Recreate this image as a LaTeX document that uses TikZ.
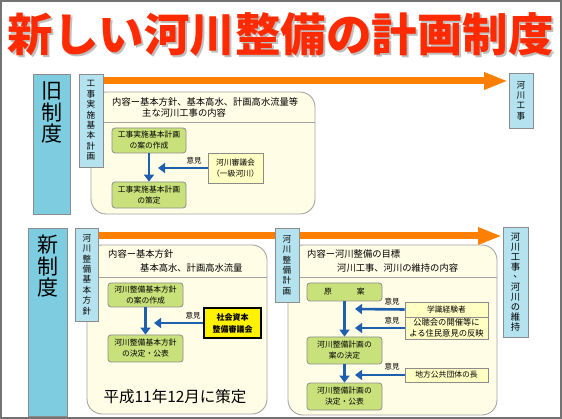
\documentclass[tikz,border=0pt]{standalone}
\usepackage{fontspec}
\setmainfont{Noto Sans CJK JP}
\usetikzlibrary{arrows.meta}
\definecolor{sysblue}{HTML}{7DCCE0}
\definecolor{lightblue}{HTML}{B4E2EE}
\definecolor{cream}{HTML}{FFFDE6}
\definecolor{greenfill}{HTML}{C9E17A}
\definecolor{lightyellow}{HTML}{FFFFC4}
\definecolor{bordergray}{HTML}{8C8C8C}
\definecolor{arrowblue}{HTML}{1F5FB0}
\definecolor{titlered}{HTML}{FF2A00}
\definecolor{orangebar}{HTML}{FF7F00}
\newcommand{\vcomma}{\raisebox{2.5pt}[0pt][0pt]{\hspace{5pt}、}}
\begin{document}
\begin{tikzpicture}[x=1pt,y=-1pt,
  box/.style={inner sep=0pt, align=center},
  bigbox/.style={box, fill=sysblue, draw=bordergray, line width=0.8pt},
  tallbox/.style={box, fill=lightblue, draw=bordergray, line width=0.8pt,
    font=\fontsize{8.6}{10.4}\selectfont},
  contentbox/.style={box, fill=cream, draw=bordergray!80, line width=0.9pt, rounded corners=15pt},
  greenbox/.style={box, fill=greenfill, draw=bordergray, line width=0.8pt, rounded corners=3pt,
    font=\fontsize{7.8}{11}\selectfont},
  yelbox/.style={box, fill=lightyellow, draw=bordergray, line width=0.8pt,
    font=\fontsize{7.8}{10.5}\selectfont},
  bluearrow/.style={draw=arrowblue, line width=2.6pt, -{Triangle[length=7pt,width=10pt]}},
  orangearrow/.style={draw=orangebar, line width=7pt, -{Triangle[length=24pt,width=16pt]}},
  sepline/.style={draw=bordergray!80, line width=0.7pt},
  headtext/.style={inner sep=0pt, anchor=west, font=\fontsize{9.3}{10}\selectfont},
  opinion/.style={inner sep=0pt, font=\fontsize{7.5}{8}\selectfont},
  systext/.style={inner sep=0pt, align=center, font=\fontsize{21}{21.5}\selectfont}
]
\useasboundingbox (0,0) rectangle (562,419);
\fill[white] (0,0) rectangle (562,419);

% title
\node[inner sep=0pt, text=black!25, font=\fontsize{45.5}{46}\selectfont\bfseries] (titleshadow) at (282.5,36.5) {新しい河川整備の計画制度};
\node[inner sep=0pt, text=titlered, font=\fontsize{45.5}{46}\selectfont\bfseries] (title) at (280.5,34.5) {新しい河川整備の計画制度};

% ===== old system =====
\node[bigbox, minimum width=37pt, minimum height=140pt] (oldsys) at (51.5,144) {};
\node[systext] (oldsyst) at (51.5,112.5) {旧\\制\\度};
\node[tallbox, minimum width=24pt, minimum height=55pt] (riverwork) at (521,100.5) {河\\川\\工\\事};
\coordinate (oa) at (103,81);
\coordinate (ob) at (508,81);
\draw[orangearrow] (oa) -- (ob);

\node[contentbox, minimum width=224pt, minimum height=122pt] (oldcontent) at (203,153) {};
\draw[sepline] (oldcontent.west |- 0,122) -- (oldcontent.east |- 0,122);
\node[tallbox, minimum width=24pt, minimum height=93pt] (oldplan) at (91,120.5) {工\\事\\実\\施\\基\\本\\計\\画};
\node[headtext] (oldh1) at (112,102) {内容ー基本方針、基本高水、計画高水流量等};
\node[headtext] (oldh2) at (142,113.5) {主な河川工事の内容};

\node[greenbox, minimum width=74pt, minimum height=25pt] (og1) at (149,140.5) {工事実施基本計画\\の案の作成};
\node[greenbox, minimum width=74pt, minimum height=26pt] (og2) at (149,195) {工事実施基本計画\\の策定};
\draw[bluearrow] (og1.south) -- (og2.north);
\node[yelbox, minimum width=55pt, minimum height=30pt] (oy) at (235.5,168) {河川審議会\\（一級河川）};
\coordinate (oyend) at (158,168);
\draw[bluearrow] (oy.west) -- (oyend);
\node[opinion] (oop) at (194,160.5) {意見};

% ===== new system =====
\node[bigbox, minimum width=39pt, minimum height=188pt] (newsys) at (47.5,322) {};
\node[systext] (newsyst) at (48,266.5) {新\\制\\度};

\coordinate (na) at (99,236);
\coordinate (nb) at (502,236);
\draw[orangearrow] (na) -- (nb);
\node[tallbox, minimum width=25pt, minimum height=110pt, font=\fontsize{9.3}{10}\selectfont] (riverwork2) at (515.5,282) {河\\川\\工\\事\\\vcomma\\河\\川\\の\\維\\持};

% left content
\node[contentbox, minimum width=180pt, minimum height=169pt] (lcontent) at (177,329.5) {};
\draw[sepline] (lcontent.west |- 0,277) -- (lcontent.east |- 0,277);
\node[tallbox, minimum width=23pt, minimum height=93pt] (newpolicy) at (87,274.5) {河\\川\\整\\備\\基\\本\\方\\針};
\node[headtext] (lh1) at (108,254) {内容ー基本方針};
\node[headtext] (lh2) at (140,268) {基本高水、計画高水流量};
\node[greenbox, minimum width=75pt, minimum height=24pt] (lg1) at (145.5,295) {河川整備基本方針\\の案の作成};
\node[greenbox, minimum width=75pt, minimum height=27pt] (lg2) at (145.5,348.5) {河川整備基本方針\\の決定・公表};
\draw[bluearrow] (lg1.south) -- (lg2.north);
\node[box, fill=yellow, draw=black, line width=1.2pt, minimum width=57pt, minimum height=30pt,
  font=\fontsize{8}{12}\selectfont\bfseries] (ly) at (232.5,323) {社会資本\\整備審議会};
\coordinate (lyend) at (154,323);
\draw[bluearrow] (ly.west) -- (lyend);
\node[opinion] (lop) at (193,316) {意見};
\node[inner sep=0pt, font=\fontsize{15.5}{16}\selectfont] (heisei) at (175,397) {平成11年12月に策定};

% right content
\node[contentbox, minimum width=209pt, minimum height=170pt] (rcontent) at (392.5,330) {};
\draw[sepline] (rcontent.west |- 0,277) -- (rcontent.east |- 0,277);
\node[tallbox, minimum width=24pt, minimum height=74pt] (newplan) at (287,265) {河\\川\\整\\備\\計\\画};
\node[headtext] (rh1) at (307,254) {内容ー河川整備の目標};
\node[headtext] (rh2) at (337,268) {河川工事、河川の維持の内容};
\node[greenbox, minimum width=75pt, minimum height=18pt] (rg1) at (344.5,292) {原\hspace{3.2em}案};
\node[greenbox, minimum width=75pt, minimum height=27pt] (rg2) at (344.5,350.5) {河川整備計画の\\案の決定};
\node[greenbox, minimum width=75pt, minimum height=27pt] (rg3) at (344.5,396.5) {河川整備計画の\\決定・公表};
\draw[bluearrow] (rg1.south) -- (rg2.north);
\draw[bluearrow] (rg2.south) -- (rg3.north);
\node[yelbox, minimum width=83pt, minimum height=15pt] (ry1) at (446.5,309.5) {学識経験者};
\node[yelbox, minimum width=83pt, minimum height=22pt, font=\fontsize{8.3}{10.5}\selectfont] (ry2) at (446.5,328) {公聴会の開催等に\\よる住民意見の反映};
\node[yelbox, minimum width=83pt, minimum height=14pt] (ry3) at (446.5,375) {地方公共団体の長};
\coordinate (r1end) at (355,309);
\coordinate (r2end) at (355,328);
\coordinate (r3end) at (355,375);
\draw[bluearrow] (ry1.west) -- (r1end);
\draw[bluearrow] (ry2.west) -- (r2end);
\draw[bluearrow] (ry3.west) -- (r3end);
\node[opinion] (rop1) at (392,302) {意見};
\node[opinion] (rop2) at (392,321) {意見};
\node[opinion] (rop3) at (392,367) {意見};

% frame
\draw[draw=black!55, line width=1.6pt] (0.8,0.8) rectangle (561.2,418.2);
\end{tikzpicture}
\end{document}
